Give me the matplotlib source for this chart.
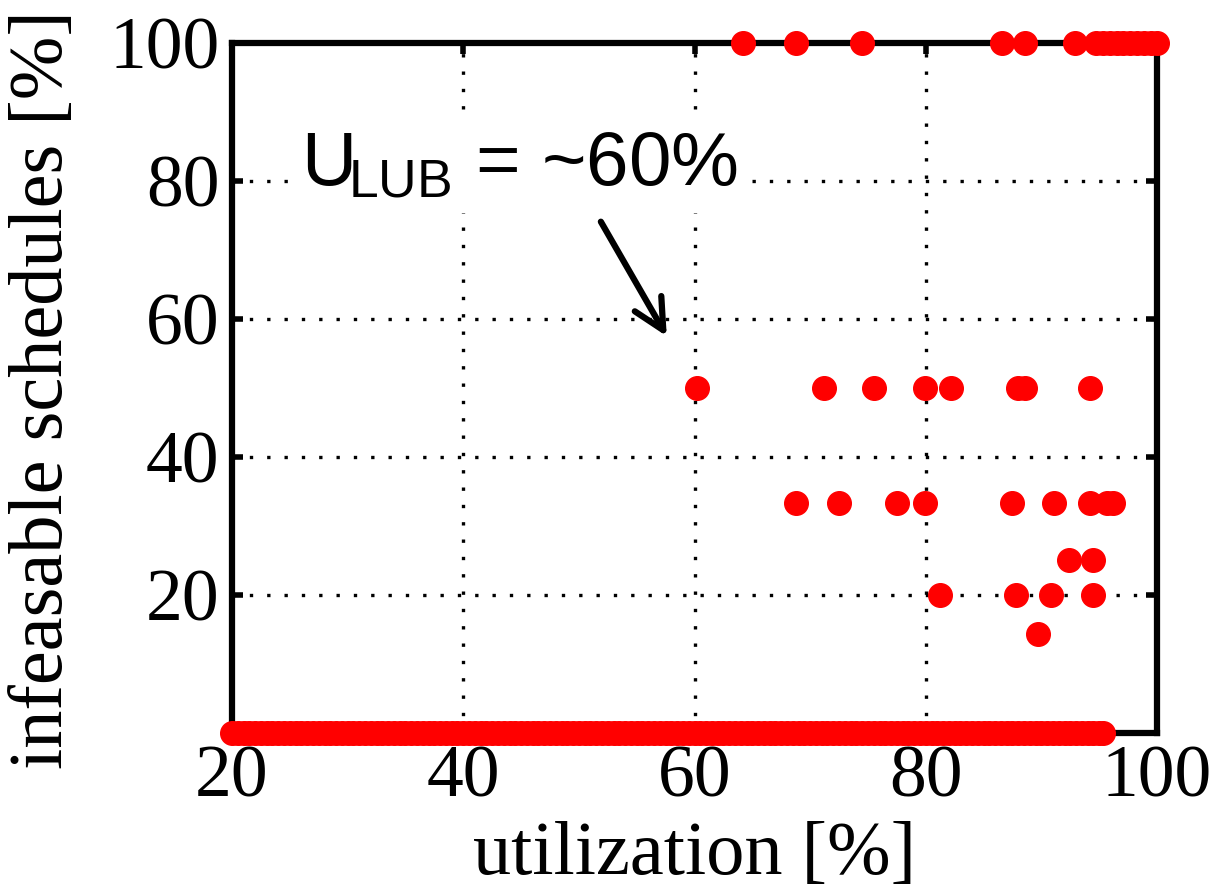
import matplotlib
matplotlib.use("Agg")
import matplotlib.pyplot as plt

# utilization [%] of the sampled task sets, grouped by share of infeasible schedules
util_100 = [64.2, 68.8, 74.5, 86.6, 88.6, 92.9, 94.7, 95.3, 95.9, 96.5,
            97.1, 97.7, 98.3, 98.9, 99.5, 100.0]
util_50 = [60.2, 71.2, 75.5, 79.9, 82.2, 88.0, 88.6, 94.2]
util_33 = [68.8, 72.5, 77.5, 79.9, 87.5, 91.1, 94.2, 95.7, 96.2]
util_25 = [92.4, 94.5]
util_20 = [81.2, 87.8, 90.8, 94.5]
util_14 = [89.7]
util_0 = [20.0, 20.5, 21.0, 21.5, 22.0, 22.5, 23.0, 23.5, 24.0, 24.5,
          25.0, 25.5, 26.0, 26.5, 27.0, 27.5, 28.0, 28.5, 29.0, 29.5,
          30.0, 30.5, 31.0, 31.5, 32.0, 32.5, 33.0, 33.5, 34.0, 34.5,
          35.0, 35.5, 36.0, 36.5, 37.0, 37.5, 38.0, 38.5, 39.0, 39.5,
          40.0, 40.5, 41.0, 41.5, 42.0, 42.5, 43.0, 43.5, 44.0, 44.5,
          45.0, 45.5, 46.0, 46.5, 47.0, 47.5, 48.0, 48.5, 49.0, 49.5,
          50.0, 50.5, 51.0, 51.5, 52.0, 52.5, 53.0, 53.5, 54.0, 54.5,
          55.0, 55.5, 56.0, 56.5, 57.0, 57.5, 58.0, 58.5, 59.0, 59.5,
          60.0, 60.5, 61.0, 61.5, 62.0, 62.5, 63.0, 63.5, 64.0, 64.5,
          65.0, 65.5, 66.0, 66.5, 67.0, 67.5, 68.0, 68.5, 69.0, 69.5,
          70.0, 70.5, 71.0, 71.5, 72.0, 72.5, 73.0, 73.5, 74.0, 74.5,
          75.0, 75.5, 76.0, 76.5, 77.0, 77.5, 78.0, 78.5, 79.0, 79.5,
          80.0, 80.5, 81.0, 81.5, 82.0, 82.5, 83.0, 83.5, 84.0, 84.5,
          85.0, 85.5, 86.0, 86.5, 87.0, 87.5, 88.0, 88.5, 89.0, 89.5,
          90.0, 90.5, 91.0, 91.5, 92.0, 92.5, 93.0, 93.5, 94.0, 94.5,
          95.0, 95.3]

groups = [
    (util_100, 100.0),
    (util_50, 50.0),
    (util_33, 100.0 / 3),
    (util_25, 25.0),
    (util_20, 20.0),
    (util_14, 100.0 / 7),
    (util_0, 0.0),
]

x_ticks = [20, 40, 60, 80, 100]
y_ticks = [20, 40, 60, 80, 100]

SERIF = "Liberation Serif"
SANS = "Liberation Sans"

plt.rcParams["mathtext.fontset"] = "custom"
plt.rcParams["mathtext.rm"] = SANS

fig = plt.figure(figsize=(12.16, 8.92), dpi=100)
ax = fig.add_axes([0.1908, 0.1783, 0.7607, 0.7735])

for utils, level in groups:
    ax.plot(utils, [level] * len(utils), "o", color="#ff0000", ms=17,
            mec="#ff0000", clip_on=False, zorder=4)

ax.set_xlim(20, 100)
ax.set_ylim(0, 100)
ax.set_xticks(x_ticks)
ax.set_yticks(y_ticks)

ax.grid(True, color="black", linestyle=(0, (1, 4.2)), linewidth=2.4)
for sp in ax.spines.values():
    sp.set_linewidth(4.5)
ax.tick_params(direction="in", length=8, width=4, top=True, right=True,
               labelsize=53, pad=9)
for lab in ax.get_xticklabels() + ax.get_yticklabels():
    lab.set_fontfamily(SERIF)

ax.set_xlabel("utilization [%]", fontsize=55, family=SERIF)
ax.xaxis.label.set_va("baseline")
ax.xaxis.set_label_coords(0.5, -0.205)
ax.set_ylabel("infeasable schedules [%]", fontsize=55, family=SERIF)
ax.yaxis.label.set_va("center")
ax.yaxis.set_label_coords(-0.204, 0.498)

ax.text(26.0, 79.4, r"U$_{\!\mathrm{LUB}}$ = ~60%", fontsize=55, family=SANS,
        va="baseline", ha="left", zorder=3,
        bbox=dict(facecolor="white", edgecolor="none", pad=8))
ax.annotate("", xy=(57.6, 57.5), xytext=(51.9, 74.1),
            arrowprops=dict(arrowstyle="->", lw=4.5, color="black",
                            mutation_scale=55, shrinkA=0, shrinkB=0),
            zorder=3)

fig.savefig("out.png", dpi=100)
